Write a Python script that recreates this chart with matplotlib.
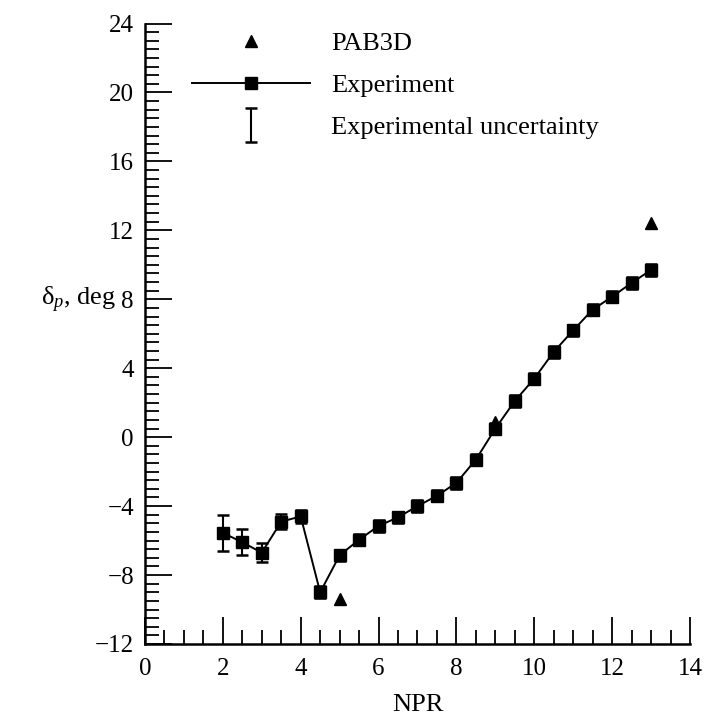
import matplotlib
matplotlib.use('Agg')
import matplotlib.pyplot as plt
from matplotlib.ticker import MultipleLocator
from matplotlib.legend_handler import HandlerErrorbar
from matplotlib.container import ErrorbarContainer

# ---- data ----
npr_exp = [2, 2.5, 3, 3.5, 4, 4.5, 5, 5.5, 6, 6.5, 7, 7.5, 8, 8.5, 9, 9.5,
           10, 10.5, 11, 11.5, 12, 12.5, 13]
dp_exp = [-5.55, -6.1, -6.7, -4.9, -4.6, -9.0, -6.85, -5.95, -5.15, -4.65,
          -4.0, -3.4, -2.65, -1.3, 0.5, 2.1, 3.4, 4.95, 6.2, 7.4, 8.15, 8.95, 9.7]
err_exp = [1.05, 0.75, 0.55, 0.45, 0.4, 0.35, 0.33, 0.33, 0.33, 0.33,
           0.33, 0.33, 0.33, 0.33, 0.33, 0.33, 0.33, 0.33, 0.33, 0.33, 0.33, 0.33, 0.33]
npr_pab = [5, 9, 13]
dp_pab = [-9.4, 0.9, 12.4]

xticks = [0, 2, 4, 6, 8, 10, 12, 14]
yticks = [-12, -8, -4, 0, 4, 8, 12, 16, 20, 24]

plt.rcParams['font.family'] = ['Liberation Serif', 'DejaVu Serif']
plt.rcParams['mathtext.fontset'] = 'custom'
plt.rcParams['mathtext.rm'] = 'Liberation Serif'
plt.rcParams['mathtext.it'] = 'Liberation Serif:italic'

fig = plt.figure(figsize=(7.04, 7.19), dpi=100)
ax = fig.add_axes([145/704, 1-644/719, 545/704, (644-23.5)/719])

h_err = ax.errorbar(npr_exp, dp_exp, yerr=err_exp, fmt='none', ecolor='black',
                    elinewidth=1.5, capsize=4.5, capthick=1.8,
                    label='Experimental uncertainty')
h_exp, = ax.plot(npr_exp, dp_exp, '-s', color='black', lw=1.4, markersize=8.5,
                 label='Experiment')
h_pab, = ax.plot(npr_pab, dp_pab, '^', color='black', markersize=8,
                 linestyle='none', label='PAB3D')

ax.set_xlim(0, 14)
ax.set_ylim(-12, 24)
ax.set_xticks(xticks)
ax.set_yticks(yticks)
ax.xaxis.set_minor_locator(MultipleLocator(0.5))
ax.yaxis.set_minor_locator(MultipleLocator(0.5))
ax.tick_params(which='major', direction='in', length=19.5, width=1.3,
               labelsize=18, colors='black')
ax.tick_params(which='minor', direction='in', length=10, width=1.3)
ax.tick_params(axis='x', which='major', pad=10)
ax.tick_params(axis='y', which='major', pad=8)
for s in ['top', 'right']:
    ax.spines[s].set_visible(False)
for s in ['left', 'bottom']:
    ax.spines[s].set_linewidth(1.8)

ax.set_xlabel('NPR', fontsize=19, labelpad=10)
ax.set_ylabel(r'$\mathrm{\delta}_{\mathit{p}}$, deg', fontsize=19, rotation=0,
              ha='center', va='center')
ax.yaxis.set_label_coords(-0.122, 0.555)

leg = fig.legend([h_pab, h_exp, h_err],
                 ['PAB3D', 'Experiment', 'Experimental uncertainty'],
                 loc='upper left', bbox_to_anchor=(192/704, 1-32/719),
                 frameon=False, fontsize=19, handlelength=4.47,
                 handletextpad=0.8, labelspacing=0.7, borderpad=0,
                 borderaxespad=0, numpoints=1,
                 handler_map={ErrorbarContainer: HandlerErrorbar(yerr_size=0.65)})

fig.savefig('out.png', dpi=100)
